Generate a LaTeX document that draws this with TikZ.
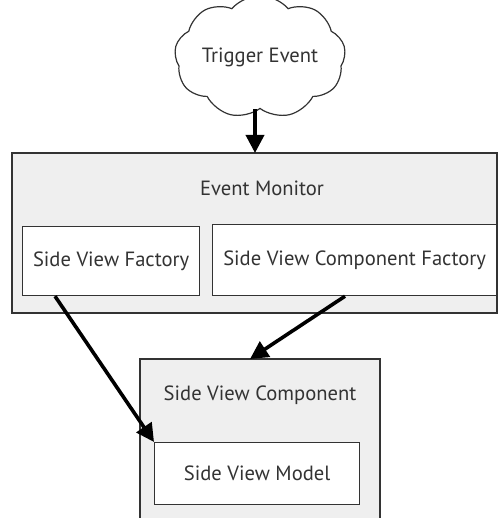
\documentclass[tikz,border=0pt]{standalone}
\usepackage{fontspec}
\setmainfont{PT Sans}
\usetikzlibrary{shapes.symbols,arrows.meta,calc}
\definecolor{panel}{HTML}{EFEFEF}
\definecolor{edge}{HTML}{333333}
\tikzset{
  panelbox/.style={draw=edge, line width=1.2pt, fill=panel},
  innerbox/.style={draw=edge, line width=1.2pt, fill=white},
  label/.style={font=\fontsize{20.6}{24}\selectfont, text=black!80},
  flow/.style={line width=3.6pt, -{Triangle[length=18pt,width=18pt]}},
}
\begin{document}
\begin{tikzpicture}[x=1pt,y=-1pt]
\useasboundingbox (0,0) rectangle (498,518);
% containers
\draw[panelbox] (12,153) rectangle (497,313);
\draw[panelbox] (140,359) rectangle (380,530);
% inner components
\node[innerbox, minimum width=177pt, minimum height=69pt, anchor=north west] (svf) at (22,226) {};
\node[innerbox, minimum width=284pt, minimum height=71pt, anchor=north west] (svcf) at (212,224) {};
\node[innerbox, minimum width=205pt, minimum height=62pt, anchor=north west] (svm) at (154,442) {};
% container anchors
\coordinate (em) at (255,153);
\coordinate (svc) at (250,359);
% texts
\node[label] at (262,188) {Event Monitor};
\node[label] at (svf.center) {Side View Factory};
\node[label] at (svcf.center) {Side View Component Factory};
\node[label] at (260,395) {Side View Component};
\node[label] at (svm.center) {Side View Model};
% trigger cloud
\node[cloud, cloud puffs=9, cloud puff arc=100, aspect=1.6, draw=edge, line width=1.2pt, fill=white,
      minimum width=154pt, minimum height=100pt, inner sep=0pt, label] (trig) at (260,57) {Trigger Event};
% connectors
\draw[flow] (trig.south -| em) -- (em);
\draw[flow] ($(svf.south west)+(33,0)$) -- (svm.north west);
\draw[flow] ($(svcf.south west)+(133,0)$) -- (svc);
\end{tikzpicture}
\end{document}
